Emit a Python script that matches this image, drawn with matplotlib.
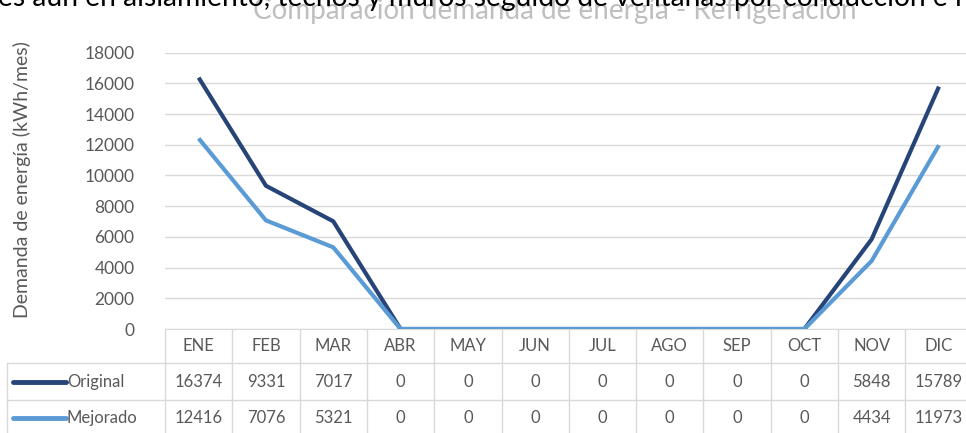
import matplotlib.pyplot as plt

meses = ["ENE", "FEB", "MAR", "ABR", "MAY", "JUN", "JUL", "AGO", "SEP", "OCT", "NOV", "DIC"]
original = [16374, 9331, 7017, 0, 0, 0, 0, 0, 0, 0, 5848, 15789]
mejorado = [12416, 7076, 5321, 0, 0, 0, 0, 0, 0, 0, 4434, 11973]
series = [("Original", original, "#264478"), ("Mejorado", mejorado, "#5B9BD5")]
yticks = list(range(0, 18001, 2000))

W, H = 966, 433
gris = "#595959"
linea = "#D9D9D9"
plt.rcParams['font.family'] = ['Lato', 'DejaVu Sans']

fig = plt.figure(figsize=(W / 100, H / 100), dpi=100)

# chart area, in pixel units converted to figure fractions
x0, x1 = 165, 972.6
y_top, y_zero = 52.7, 329
ax = fig.add_axes([x0 / W, (H - y_zero) / H, (x1 - x0) / W, (y_zero - y_top) / H])
xs = [i + 0.5 for i in range(len(meses))]
for nombre, vals, color in series:
    ax.plot(xs, vals, color=color, lw=3, solid_capstyle='butt', zorder=3)
ax.set_xlim(0, 12)
ax.set_ylim(0, 18000)
ax.set_yticks(yticks)
ax.set_yticklabels([str(v) for v in yticks], fontsize=12.5, color=gris)
ax.tick_params(axis='y', length=0, pad=22)
ax.set_xticks([])
ax.grid(axis='y', color=linea, lw=1)
for s in ["top", "right", "left"]:
    ax.spines[s].set_visible(False)
ax.spines["bottom"].set_color(linea)

# data table under the chart
tab = fig.add_axes([x0 / W, 0, (x1 - x0) / W, (H - y_zero) / H])
tab.set_xlim(0, 12)
tab.set_ylim(H, y_zero)
tab.axis('off')
px = lambda p: (p - x0) / ((x1 - x0) / 12)

for k in range(13):
    tab.plot([k, k], [330, H], color=linea, lw=1, clip_on=False)
tab.plot([px(7), px(7)], [363, H], color=linea, lw=1, clip_on=False)
for yy in [363, 400]:
    tab.plot([px(7), 12], [yy, yy], color=linea, lw=1, clip_on=False)

for i, m in enumerate(meses):
    tab.text(i + 0.5, 346, m, ha='center', va='center', fontsize=12, color=gris)

for (nombre, vals, color), yc in zip(series, [382, 418]):
    tab.plot([px(13), px(66)], [yc, yc], color=color, lw=3.5, clip_on=False,
             solid_capstyle='round')
    tab.text(px(67), yc, nombre, ha='left', va='center', fontsize=12, color=gris)
    for i, v in enumerate(vals):
        tab.text(i + 0.5, yc, str(v), ha='center', va='center', fontsize=12,
                 color=gris, clip_on=False)

fig.text(22 / W, (H - 180) / H, "Demanda de energía (kWh/mes)", rotation=90,
         ha='center', va='center', fontsize=14, color=gris)

# title and surrounding document text (clipped at the top)
fig.text(555 / W, 1 - 19 / H, "Comparación demanda de energía - Refrigeración",
         ha='center', va='baseline', fontsize=20, color="#BFBFBF")
fig.text(-2 / W, 1 - 6 / H,
         "es aún en aislamiento, techos y muros seguido de ventanas por conducción e i",
         ha='left', va='baseline', fontsize=20.3, color="black")

fig.savefig("out.png", dpi=100)
plt.close()
